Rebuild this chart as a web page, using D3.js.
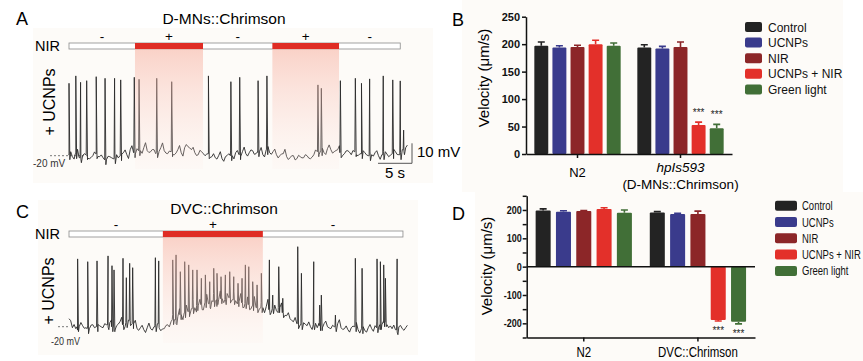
<!DOCTYPE html>
<html>
<head>
<meta charset="utf-8">
<script src="https://cdn.jsdelivr.net/npm/d3@7"></script>
<style>
  html, body { margin: 0; padding: 0; background: #fff; }
  svg { display: block; font-family: "Liberation Sans", Arial, sans-serif; }
</style>
</head>
<body>
<svg id="fig" width="863" height="361"></svg>
<script>
// ---- traces (mV), baseline sampled every 0.5 s, plus a mid-sample offset ----
const stepT = 0.5;
const baseA = [
  -19.5, -20.5, -19, -21, -20, -19.5, -21.5, -20, -19, -20.5,
  -21, -22, -20.5, -21.5, -19.5, -20, -18.5, -19.5, -17, -18.5,
  -16.5, -17.5, -16, -17.5, -18, -17, -18.5, -16, -17.5, -19,
  -18, -19.5, -17, -18.5, -16, -15.5, -17, -18.5, -19.5, -18,
  -20, -19, -20.5, -21, -20, -21.5, -20.5, -19, -20, -18.5,
  -19.5, -18, -19, -18.5, -17.5, -19, -18, -19.5, -17, -18.5,
  -18, -19.5, -20, -19, -20.5, -21, -20, -21.5, -20.5, -21,
  -20, -21.5, -19.5, -18, -17.5, -18.5, -16.5, -17, -18, -17,
  -18.5, -19, -17.5, -19.5, -18, -20, -19, -18.5, -20, -19.5,
  -18.5, -20, -19.5, -18, -20.5, -19, -18, -19.5, -17, -16
];
const jitA = [
  1.5, -1.2, 2.2, -0.8, 1.0, -1.8, 0.6, 1.9, -1.4, 0.9,
  -1.1, 1.7, -0.5, 2.3, -1.6, 0.8, 1.4, -1.9, 2.0, -0.7,
  1.8, -1.3, 2.5, -0.9, 1.1, -2.0, 0.7, 2.4, -1.2, 1.3,
  -1.5, 0.9, 2.1, -1.7, 1.6, -0.6, 1.2, -1.4, 2.2, -1.0,
  0.8, -1.9, 1.5, -0.7, 2.0, -1.3, 0.6, 1.8, -1.6, 1.1,
  -0.9, 2.3, -1.2, 1.4, -1.8, 0.7, 2.1, -1.1, 1.6, -0.8,
  1.3, -1.6, 0.9, 2.2, -1.4, 1.0, -2.1, 1.7, -0.6, 1.5,
  -1.2, 0.8, 2.4, -1.5, 1.2, -0.9, 1.9, -1.7, 0.6, 2.0,
  -1.3, 1.4, -0.8, 2.1, -1.6, 0.9, 1.5, -1.1, 2.3, -0.7,
  1.0, -1.8, 1.6, -1.2, 0.7, 2.2, -1.4, 1.1, -0.9, 1.3
];
const spikeTimesA = [0.0, 1.0, 1.7, 2.6, 4.0, 5.3, 6.7, 7.6, 9.6, 10.3, 12.9, 15.1, 20.5, 23.8, 25.1, 27.8, 29.1,
  36.6, 37.1, 39.9, 42.1, 43.0, 44.2, 46.2, 47.6, 48.7, 49.2];
const spikePeaksA = [16.2, 19.9, 16.7, 17.5, 19.5, 18.7, 18.7, 17.9, 19.2, 18.2, 18.7, 17, 19.9, 17, 19.2, 17.5, 19.9,
  15.4, 13.7, 17.5, 18.7, 16.2, 18.4, 19.9, 17.9, 17.4, -7.2];

const baseC = [
  -16, -20.5, -21, -20, -19.5, -20.5, -21, -19, -20, -19.5,
  -20.5, -19, -18, -20, -19.5, -17.5, -19, -18, -17, -18.5,
  -21, -20.5, -21.5, -20.5, -21, -20, -18.5, -22, -21, -19,
  -17.5, -16.5, -15, -14, -13, -12.5, -11, -10.5, -9.5, -9,
  -8, -8.5, -7, -7.5, -6.5, -6, -6.5, -5.5, -6.5, -7,
  -7.5, -8, -8.5, -9, -9.5, -10.5, -11, -10.5, -10, -11.5,
  -11, -12, -10.5, -13, -14.5, -16, -17.5, -18.5, -19, -18,
  -19.5, -20, -19, -20.5, -19.5, -18.5, -20, -21, -20, -18.5,
  -20.5, -21, -21.5, -20.5, -20, -21.5, -21, -22, -20.5, -21,
  -19.5, -20.5, -19, -17.5, -20.5, -21, -21.5, -20, -21, -20.5
];
const jitC = [
  -1.0, 1.6, -0.7, 2.1, -1.3, 0.9, 1.8, -1.5, 1.1, -0.6,
  2.0, -1.2, 1.4, -1.8, 0.8, 2.2, -0.9, 1.3, -1.6, 1.7,
  -0.8, 1.2, -1.4, 2.3, -0.7, 1.5, -1.9, 0.9, 1.6, -1.1,
  3.5, -2.0, 4.0, -2.5, 3.8, -1.8, 4.5, -2.2, 3.2, -2.6,
  4.2, -1.9, 3.6, -2.4, 4.4, -2.0, 3.1, -2.7, 3.9, -1.6,
  4.1, -2.3, 3.4, -2.1, 4.6, -1.7, 3.0, -2.5, 3.7, -1.4,
  1.8, -1.0, 2.4, -1.3, 1.5, -0.9, 2.1, -1.6, 1.2, -0.8,
  1.9, -1.4, 0.7, 2.2, -1.1, 1.3, -0.6, 1.7, -1.5, 2.0,
  -0.9, 1.4, -1.2, 0.8, 2.1, -1.7, 1.0, -0.7, 1.6, -1.3,
  2.3, -1.0, 1.1, -1.5, 0.9, 1.8, -1.2, 0.6, -0.8, 1.2
];
const spikeTimesC = [1.27, 2.75, 4.12, 5.74, 6.32, 6.62, 7.94, 8.43, 8.92, 9.36, 12.7, 13.19,
  15.25, 15.74, 16.37, 17.01, 17.6, 18.19, 18.82, 19.46, 20.05, 20.69, 21.28, 21.76, 22.35, 22.99,
  23.63, 24.22, 24.85, 25.44, 25.93, 26.43, 27.01, 27.65, 28.28,
  29.46, 29.95, 30.84, 31.43, 33.63, 34.17, 35.98, 36.86, 37.1, 39.17, 42.1, 43.09, 45.29, 45.78,
  46.27, 46.52, 48.24];
const spikePeaksC = [13.9, 12.5, 12.9, 15.4, 10.5, 8.4, 14.2, 4.5, 11.7, 9.5, 14.5, 12.9,
  13.4, 15.9, 7.5, 12.5, 10.9, 8.4, 8.4, 4.2, 5.9, 2.5, 9.2, 6.7, 5.0, 5.9,
  7.5, 5.0, 1.7, 4.2, 10.9, 10.0, 2.5, 0.9, 6.7,
  13.4, -4.2, 10.0, -5.8, 20.0, 6.7, 12.5, -9.2, -4.2, -14.2, 14.2, 9.2, 13.9, 12.5,
  10.9, 4.2, 13.9];

// NIR stimulation (s)
const nirEndA = 48.7;
const nirOnA = [[9.7, 19.7], [29.9, 39.7]];
const nirEndC = 49.1;
const nirOnC = [[13.8, 28.5]];

// ---- bar charts ----
const series = ["Control", "UCNPs", "NIR", "UCNPs + NIR", "Green light"];
const colors = ["#232323", "#3a3b8c", "#8c2628", "#e3302a", "#416f37"];
const groupsB = ["N2", "hpIs593"];
const velB = [[197, 194, 195, 200, 197], [194, 192, 195, 53, 47]];
const errB = [[7, 3, 3, 7, 5], [5, 4, 9, 5, 7]];
const ticksB = [0, 50, 100, 150, 200, 250];
const groupsD = ["N2", "DVC::Chrimson"];
const velD = [[198, 194, 196, 203, 190], [191, 186, 186, -188, -194]];
const errD = [[6, 3, 2, 5, 10], [3, 2, 10, 4, 8]];
const ticksD = [-250, -200, -150, -100, -50, 0, 50, 100, 150, 200, 250];
const starsB = [[1, 3], [1, 4]];
const starsD = [[1, 3], [1, 4]];

const NARROW = 0.82; // horizontally condensed text, as in the source figure

const svg = d3.select('#fig');
const defs = svg.append('defs');
const grad = defs.append('linearGradient')
  .attr('id', 'pink').attr('x1', 0).attr('y1', 0).attr('x2', 0).attr('y2', 1);
grad.append('stop').attr('offset', '0%').attr('stop-color', 'rgb(247,176,160)').attr('stop-opacity', 0.55);
grad.append('stop').attr('offset', '55%').attr('stop-color', 'rgb(250,205,195)').attr('stop-opacity', 0.32);
grad.append('stop').attr('offset', '100%').attr('stop-color', 'rgb(255,235,230)').attr('stop-opacity', 0.15);

// faint cream panel backgrounds
[[33, 28, 400, 155], [38, 200, 380, 155], [462, 0, 381, 192], [475, 192, 388, 169]].forEach(r => {
  svg.append('rect').attr('x', r[0]).attr('y', r[1]).attr('width', r[2]).attr('height', r[3]).attr('fill', '#fdfbf8');
});

function narrowText(parent, x, y, size, txt, anchor, k) {
  return parent.append('text')
    .attr('transform', `translate(${x},${y}) scale(${k || NARROW},1)`)
    .attr('text-anchor', anchor || 'start').attr('font-size', size).text(txt);
}

function tracePoints(base, jit, times, peaks) {
  const pts = [];
  base.forEach((v, i) => { pts.push([i * stepT, v], [i * stepT + stepT / 2, v + jit[i]]); });
  times.forEach((t, i) => {
    const b = base[Math.min(base.length - 1, Math.round(t / stepT))];
    pts.push([t - 0.07, b], [t, peaks[i]], [t + 0.12, b - 2.5]);
  });
  return pts.sort((a, b) => a[0] - b[0]);
}

function tracePanel(o) {
  const x = d3.scaleLinear().domain([0, 49.4]).range([69, 405]);
  const y = d3.scaleLinear().domain([-20, 20]).range([o.y0, o.y0 - 80]);
  const g = svg.append('g');

  // NIR bar
  g.append('rect').attr('x', x(0)).attr('y', o.barY).attr('width', x(o.barEnd) - x(0)).attr('height', 6)
    .attr('fill', '#fff').attr('stroke', '#8a8a8a').attr('stroke-width', 0.8);
  g.selectAll('.on').data(o.on).enter().append('rect')
    .attr('x', d => x(d[0])).attr('y', o.barY).attr('width', d => x(d[1]) - x(d[0])).attr('height', 6)
    .attr('fill', '#df2c24');
  const edges = [0].concat(o.on.flat(), [o.barEnd]);
  d3.pairs(edges).forEach((p, i) => {
    g.append('text').attr('x', x((p[0] + p[1]) / 2)).attr('y', o.barY - 2)
      .attr('text-anchor', 'middle').attr('font-size', 13.5).text(i % 2 ? '+' : '-');
  });
  g.append('text').attr('x', 35).attr('y', o.barY + 8).attr('font-size', 14.5).text('NIR');

  // dashed -20 mV
  g.append('line').attr('x1', o.dash[0]).attr('x2', o.dash[1]).attr('y1', y(-20)).attr('y2', y(-20))
    .attr('stroke', '#555').attr('stroke-width', 0.8).attr('stroke-dasharray', '2,2');
  if (o.narrow) narrowText(g, o.mvX, y(-20) + o.mvDy, 11, '-20 mV').attr('fill', '#333');
  else g.append('text').attr('x', o.mvX).attr('y', y(-20) + o.mvDy).attr('font-size', 10).attr('fill', '#333').text('-20 mV');

  // trace
  const line = d3.line().x(d => x(d[0])).y(d => y(d[1]));
  g.append('path').attr('d', line(tracePoints(o.base, o.jit, o.times, o.peaks)))
    .attr('fill', 'none').attr('stroke', '#2a2a2a').attr('stroke-width', 0.9).attr('stroke-linejoin', 'round');

  // pink overlay
  g.selectAll('.pk').data(o.on).enter().append('rect')
    .attr('x', d => x(d[0])).attr('y', o.barY + 6).attr('width', d => x(d[1]) - x(d[0])).attr('height', o.pinkH)
    .attr('fill', 'url(#pink)');

  g.append('text').attr('transform', `translate(${o.ucX},${o.ucY}) rotate(-90)`)
    .attr('text-anchor', 'middle').attr('font-size', 16).text('+ UCNPs');
  g.append('text').attr('x', 16).attr('y', o.letterY).attr('font-size', 18).text(o.letter);
  g.append('text').attr('x', 224).attr('y', o.titleY).attr('text-anchor', 'middle')
    .attr('font-size', o.titleSize).text(o.title);
  return { x, y, g };
}

const A = tracePanel({
  base: baseA, jit: jitA, times: spikeTimesA, peaks: spikePeaksA, on: nirOnA, barEnd: nirEndA,
  y0: 155.7, barY: 43, pinkH: 120, dash: [50, 90], mvX: 33, mvDy: 11, ucX: 55, ucY: 102,
  letter: 'A', letterY: 25, title: 'D-MNs::Chrimson', titleY: 24, titleSize: 15.5
});
// scale bar
const sx = A.x(49.4) + 7, sy = 163.3;
A.g.append('path')
  .attr('d', `M${sx - (A.x(5) - A.x(0))},${sy}H${sx}V${sy - (A.y(-10) - A.y(0))}`)
  .attr('fill', 'none').attr('stroke', '#555').attr('stroke-width', 1);
A.g.append('text').attr('x', sx + 5).attr('y', 157).attr('font-size', 15).text('10 mV');
A.g.append('text').attr('x', sx - 17).attr('y', 178).attr('text-anchor', 'middle').attr('font-size', 15).text('5 s');

tracePanel({
  base: baseC, jit: jitC, times: spikeTimesC, peaks: spikePeaksC, on: nirOnC, barEnd: nirEndC,
  y0: 326.7, barY: 231, pinkH: 106, dash: [58, 68], mvX: 51, mvDy: 18, narrow: true, ucX: 54, ucY: 291,
  letter: 'C', letterY: 218, title: 'DVC::Chrimson', titleY: 214, titleSize: 15.5
});

function barPanel(o) {
  const g = svg.append('g');
  const y = d3.scaleLinear().domain(o.domain).range(o.yRange);
  const x0 = d3.scaleBand().domain(o.groups).range(o.xRange);
  const x1 = d3.scaleBand().domain(d3.range(series.length)).range([0, x0.bandwidth()])
    .paddingInner(o.pi).paddingOuter(o.po);

  o.groups.forEach((gr, gi) => {
    const gg = g.append('g').attr('transform', `translate(${x0(gr)},0)`);
    gg.selectAll('rect').data(o.vals[gi]).enter().append('rect')
      .attr('x', (d, i) => x1(i)).attr('width', x1.bandwidth())
      .attr('y', d => y(Math.max(0, d))).attr('height', d => Math.abs(y(d) - y(0)))
      .attr('fill', (d, i) => colors[i]).attr('rx', 1);
    gg.selectAll('path').data(o.vals[gi]).enter().append('path')
      .attr('d', (d, i) => {
        const cx = x1(i) + x1.bandwidth() / 2;
        const e = d < 0 ? d - o.errs[gi][i] : d + o.errs[gi][i];
        return `M${cx},${y(d)}V${y(e)}M${cx - 3.5},${y(e)}H${cx + 3.5}`;
      })
      .attr('stroke', (d, i) => colors[i]).attr('stroke-width', 1.6).attr('fill', 'none');
  });

  o.stars.forEach(s => {
    const d = o.vals[s[0]][s[1]], e = o.errs[s[0]][s[1]];
    const cx = x0(o.groups[s[0]]) + x1(s[1]) + x1.bandwidth() / 2;
    const yy = d < 0 ? y(d - e) + 13 : y(d + e) - 6;
    g.append('text').attr('x', cx).attr('y', yy).attr('text-anchor', 'middle')
      .attr('font-size', 10).attr('fill', '#222').text('***');
  });

  const ya = g.append('g').attr('transform', `translate(${o.xRange[0]},0)`)
    .call(d3.axisLeft(y).tickValues(o.ticks).tickSize(4).tickSizeOuter(0).tickPadding(2).tickFormat(o.fmt));
  ya.selectAll('text')
    .attr('font-family', null).attr('font-size', o.tickSize).attr('font-weight', 'bold').attr('fill', '#111')
    .attr('transform', o.narrow ? `scale(${NARROW},1)` : null);
  g.append('g').attr('transform', `translate(0,${y(o.domain[0])})`)
    .call(d3.axisBottom(x0).tickSize(4).tickSizeOuter(0).tickFormat(''));
  g.selectAll('.domain, .tick line').attr('stroke', '#111').attr('stroke-width', 1.5);
  if (o.zeroLine) {
    g.append('line').attr('x1', o.xRange[0]).attr('x2', o.xRange[1]).attr('y1', y(0)).attr('y2', y(0))
      .attr('stroke', '#111').attr('stroke-width', 1.5);
  }

  g.append('text').attr('transform', `translate(${o.ylabX},${o.ylabY}) rotate(-90)`)
    .attr('text-anchor', 'middle').attr('font-size', 15).text('Velocity (μm/s)');
  g.append('text').attr('x', 452).attr('y', o.letterY).attr('font-size', 18).text(o.letter);

  // legend
  series.forEach((s, i) => {
    const cy = o.leg.y + i * o.leg.step;
    g.append('rect').attr('x', o.leg.x).attr('y', cy - 5).attr('width', o.leg.w).attr('height', 10)
      .attr('rx', 2).attr('fill', colors[i]);
    const t = o.narrow ? narrowText(g, o.leg.tx, cy + 4.5, o.leg.fs, s, 'start', 0.76)
      : g.append('text').attr('x', o.leg.tx).attr('y', cy + 4.5).attr('font-size', o.leg.fs).text(s);
    t.attr('fill', '#111');
  });
  return { x0, y, g };
}

const B = barPanel({
  groups: groupsB, vals: velB, errs: errB, stars: starsB, domain: [0, 250], yRange: [154, 16.7],
  xRange: [526, 732], pi: 0.23, po: 0.46, ticks: ticksB, fmt: d3.format('d'), tickSize: 11,
  ylabX: 489, ylabY: 78, letter: 'B', letterY: 26,
  leg: { x: 745, y: 27, step: 15.6, w: 17, tx: 768, fs: 12 }
});
B.g.append('text').attr('x', B.x0('N2') + B.x0.bandwidth() / 2).attr('y', 177)
  .attr('text-anchor', 'middle').attr('font-size', 13).text('N2');
B.g.append('text').attr('x', B.x0('hpIs593') + B.x0.bandwidth() / 2).attr('y', 172)
  .attr('text-anchor', 'middle').attr('font-size', 13.5).attr('font-style', 'italic').text('hpIs593');
B.g.append('text').attr('x', B.x0('hpIs593') + B.x0.bandwidth() / 2).attr('y', 189)
  .attr('text-anchor', 'middle').attr('font-size', 13.5).text('(D-MNs::Chrimson)');

const D = barPanel({
  groups: groupsD, vals: velD, errs: errD, stars: starsD, domain: [-250, 250], yRange: [337.5, 195.8],
  xRange: [526.7, 755], pi: 0.26, po: 0.44, ticks: ticksD, narrow: true,
  fmt: d => (d % 100 === 0 && Math.abs(d) < 250 ? d : ''), tickSize: 11, zeroLine: true,
  ylabX: 492, ylabY: 266, letter: 'D', letterY: 220,
  leg: { x: 775, y: 205.7, step: 16.3, w: 22, tx: 802, fs: 12.5 }
});
groupsD.forEach(gr => {
  narrowText(D.g, D.x0(gr) + D.x0.bandwidth() / 2, 357, 14, gr, 'middle');
});
</script>
</body>
</html>
